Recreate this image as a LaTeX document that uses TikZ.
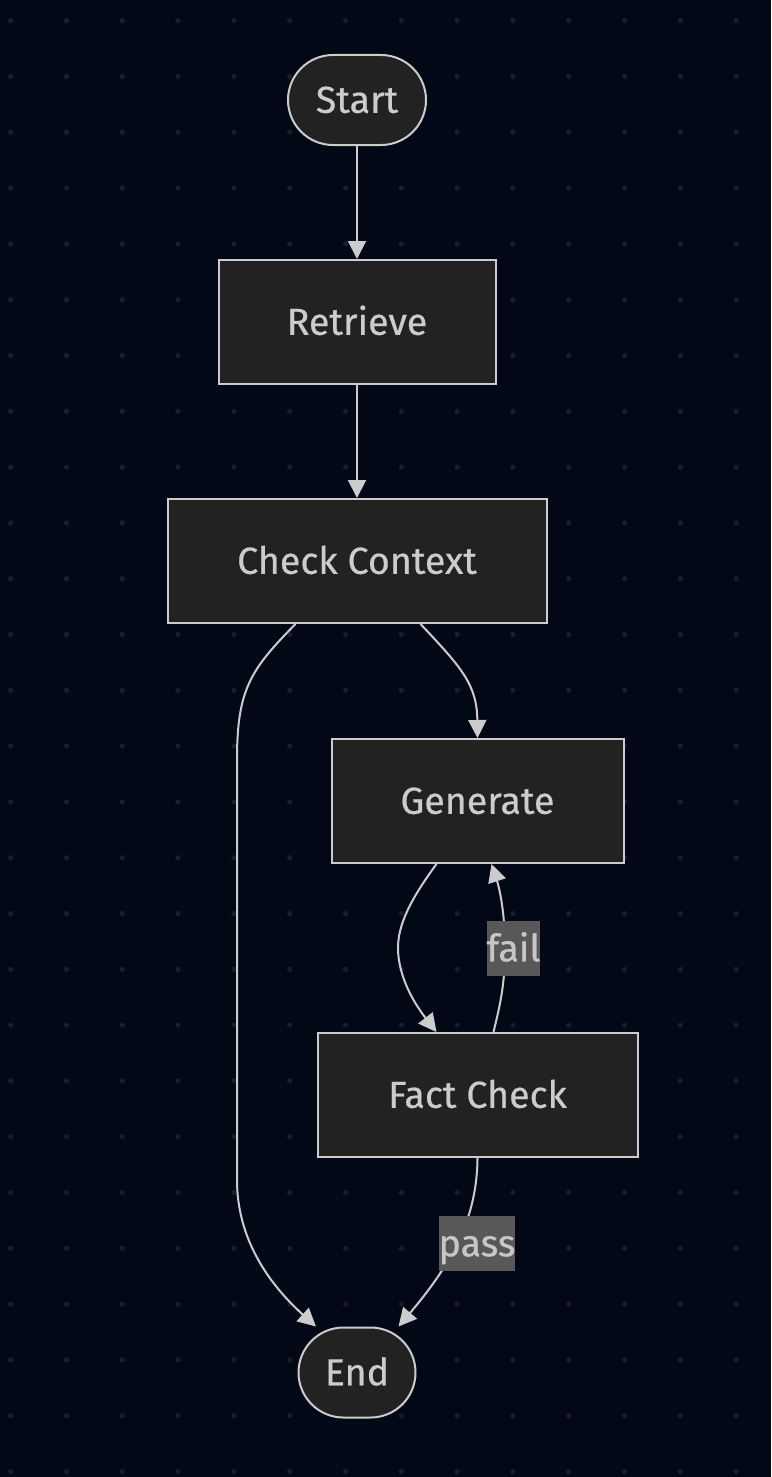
\documentclass[tikz,border=0pt]{standalone}
\usepackage{fontspec}
\setmainfont{Fira Sans}[FakeBold=0.5]
\usetikzlibrary{arrows.meta,calc}
\definecolor{bg}{RGB}{2,8,22}
\definecolor{griddot}{RGB}{26,30,44}
\definecolor{boxfill}{RGB}{34,34,34}
\definecolor{edge}{RGB}{204,204,204}
\definecolor{tagfill}{RGB}{88,88,88}
\begin{document}
\begin{tikzpicture}[x=0.5pt,y=-0.5pt]
 \fill[bg] (0,0) rectangle (771,1477);
 \useasboundingbox (0,0) rectangle (771,1477);
 \foreach \i in {0,...,13}
  \foreach \j in {0,...,26}
   \fill[griddot] (10.7+55.8*\i,20.7+55.8*\j) circle (1.3pt);
 \tikzstyle{every node}=[draw=edge,line width=1pt,fill=boxfill,text=edge,font=\fontsize{18.8}{22}\selectfont,inner sep=0pt,text height=12.8pt,text depth=0pt]
 \tikzstyle{box} = [rectangle,minimum height=62pt]
 \tikzstyle{term} = [rectangle,rounded corners=22.5pt,minimum height=45pt]
 \tikzstyle{l} = [draw=edge,line width=1pt,-{Triangle[length=9pt,width=9pt]}]
 \tikzstyle{tag} = [draw=none,fill=tagfill,text=edge!110,minimum height=27.5pt,inner xsep=0pt]
 \draw
 (357,100) node[term,minimum width=69pt] (Start) {Start}
 (Start) ++(0,222) node[box,minimum width=138.5pt] (Retrieve) {Retrieve}
 (Retrieve) ++(0,239) node[box,minimum width=189.5pt] (Check) {Check Context}
 (Check) ++(120.5,240) node[box,minimum width=146pt] (Generate) {Generate}
 (Generate) ++(0,294) node[box,minimum width=160pt] (Fact) {Fact Check}
 (Check) ++(0,811.5) node[term,minimum width=58.5pt] (End) {End}
 ;
 \path [l] (Start) -- (Retrieve);
 \path [l] (Retrieve) -- (Check);
 \path [l] ($(Check.south)+(63.5,0)$) .. controls (462,668) and (477,685) .. (Generate.north);
 \path [l] ($(Check.south)+(-61.5,0)$) .. controls (250,670) and (237,690) .. (237,760)
  -- (237,1180) .. controls (237,1240) and (270,1285) .. ($(End.north)+(-41,0)$);
 \path [l] ($(Generate.south)+(-41,0)$) .. controls (410,900) and (398,925) .. (398,948)
  .. controls (398,972) and (410,998) .. ($(Fact.north)+(-41,0)$);
 \path [l] ($(Fact.north)+(16,0)$) .. controls (500,1005) and (505,985) .. (505,948)
  .. controls (505,915) and (500,890) .. ($(Generate.south)+(14,0)$);
 \path [l] (Fact.south) .. controls (477,1215) and (455,1260) .. ($(End.north)+(41.5,0)$);
 \node[tag] (Fail) at (513.5,948.5) {fail};
 \node[tag] (Pass) at (477,1243.5) {pass};
\end{tikzpicture}
\end{document}
